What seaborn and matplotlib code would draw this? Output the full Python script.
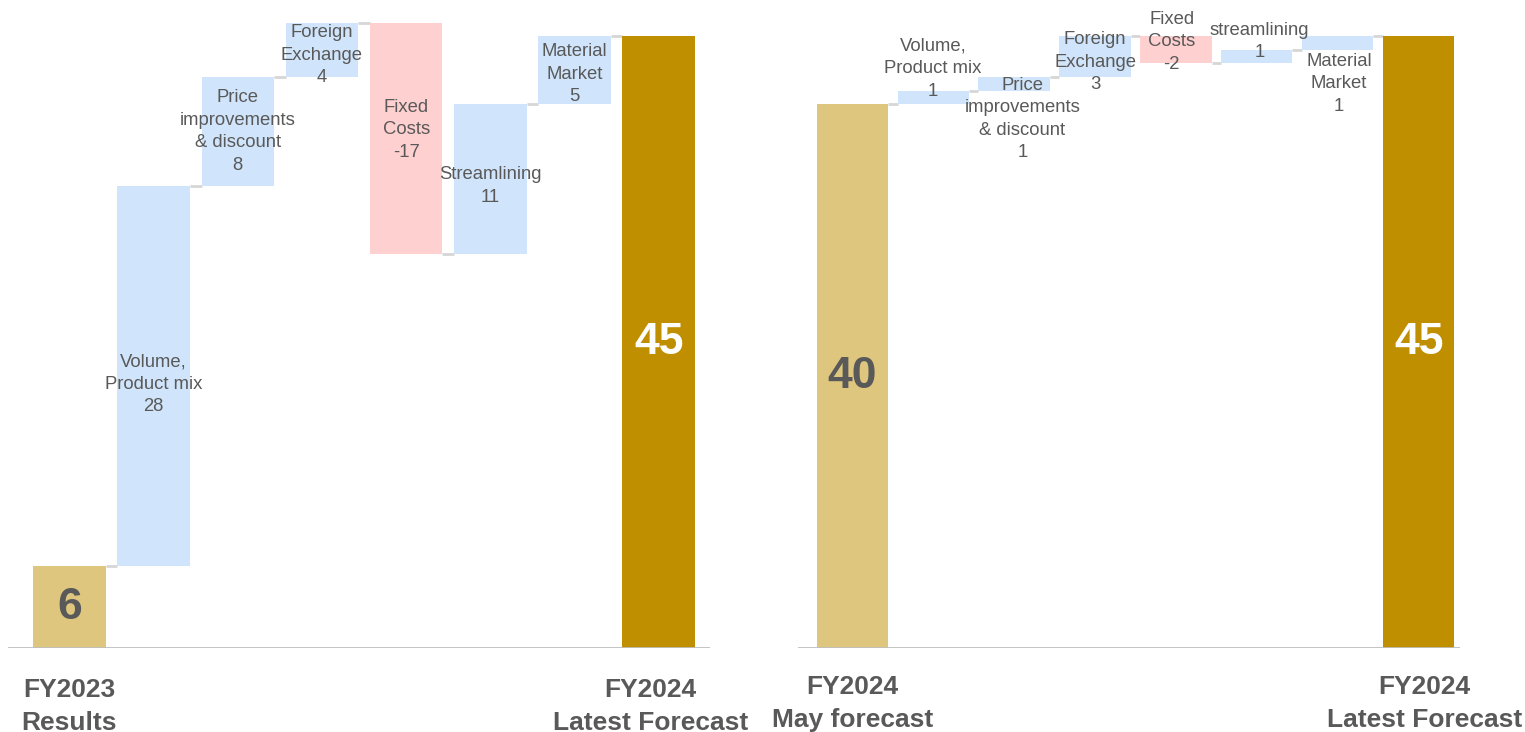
import matplotlib
matplotlib.use("Agg")
import matplotlib.pyplot as plt
import numpy as np
import pandas as pd
import seaborn as sns

# ---- data -------------------------------------------------------------
# Bridge 1: FY2023 results -> FY2024 latest forecast
left_start = 6
left_steps = [28, 8, 4, -17, 11, 5]
left_end = 45
left_step_names = ["Volume,\nProduct mix", "Price\nimprovements\n& discount",
                   "Foreign\nExchange", "Fixed\nCosts", "Streamlining",
                   "Material\nMarket"]
left_start_name = "FY2023\nResults"
left_end_name = "FY2024\nLatest Forecast"

# Bridge 2: FY2024 May forecast -> FY2024 latest forecast
right_start = 40
right_steps = [1, 1, 3, -2, 1, 1]
right_end = 45
right_step_names = ["Volume,\nProduct mix", "Price\nimprovements\n& discount",
                    "Foreign\nExchange", "Fixed\nCosts", "streamlining",
                    "Material\nMarket"]
right_start_name = "FY2024\nMay forecast"
right_end_name = "FY2024\nLatest Forecast"

# ---- style ------------------------------------------------------------
sns.set_theme(style="white")
plt.rcParams["font.family"] = ["Liberation Sans", "DejaVu Sans"]

C_START = "#DFC67E"
C_END = "#BF8F00"
C_UP = "#D0E5FB"
C_DOWN = "#FFD0D0"
C_TEXT = "#595959"
C_LINE = "#BFBFBF"
C_CONN = "#D6D6D6"

fig = plt.figure(figsize=(15.25, 7.32), dpi=100)
ax_l = fig.add_axes([8 / 1525, 84 / 732, 702 / 1525, 639 / 732])
ax_r = fig.add_axes([798 / 1525, 84 / 732, 662 / 1525, 639 / 732])


def waterfall(ax, start, steps, end, step_names, start_name, end_name,
              width, xlim, start_txt_color, label_pos=None, label_dx=None,
              label_dy=None, end_label_dy=-40, start_label_dx=0,
              end_label_dx=0):
    heights = [start] + list(steps) + [end]
    levels = np.cumsum([start] + list(steps))          # running total after each bar
    bottoms = [0] + list(levels[:-1]) + [0]
    keys = [f"b{i}" for i in range(len(heights))]
    colors = [C_START] + [C_UP if s >= 0 else C_DOWN for s in steps] + [C_END]
    df = pd.DataFrame({"key": keys, "height": heights})

    sns.barplot(data=df, x="key", y="height", hue="key", order=keys,
                hue_order=keys, palette=colors, width=width, saturation=1,
                errorbar=None, legend=False, ax=ax, linewidth=0, zorder=2)

    # lift each step bar onto the running total
    bars = sorted(ax.patches, key=lambda p: p.get_x())
    for patch, b in zip(bars, bottoms):
        patch.set_y(b)

    # connectors between consecutive bars
    for i in range(len(heights) - 1):
        ax.plot([i + width / 2, i + 1 - width / 2], [levels[i], levels[i]],
                color=C_CONN, lw=2, zorder=1, solid_capstyle="butt")

    ax.axhline(0, color=C_LINE, lw=2, zorder=3)

    # totals inside the start / end bars
    ax.text(0, start / 2, f"{start}", ha="center", va="center",
            fontsize=32, fontweight="bold", color=start_txt_color, zorder=4)
    ax.text(len(heights) - 1, end / 2, f"{end}", ha="center", va="center",
            fontsize=32, fontweight="bold", color="white", zorder=4)

    # step labels
    for j, (name, s) in enumerate(zip(step_names, steps)):
        i = j + 1
        y = bottoms[i] + s / 2 if label_pos is None else label_pos[j]
        dx = 0 if label_dx is None else label_dx[j]
        dy = 0 if label_dy is None else label_dy[j]
        ax.annotate(f"{name}\n{s}", xy=(i, y), xytext=(dx, dy),
                    textcoords="offset points", ha="center", va="center",
                    fontsize=13.3, color=C_TEXT, linespacing=1.42, zorder=4)

    # category labels under the axis
    for i, name, dx in [(0, start_name, start_label_dx),
                        (len(heights) - 1, end_name, end_label_dx)]:
        ax.annotate(name, xy=(i, 0), xytext=(dx, end_label_dy),
                    textcoords="offset points", ha="center", va="center",
                    fontsize=19, fontweight="bold", color=C_TEXT,
                    linespacing=1.45, annotation_clip=False)

    ax.set_xlim(*xlim)
    ax.set_ylim(0, 47)
    ax.set_xticks([])
    ax.set_yticks([])
    ax.set_xlabel("")
    ax.set_ylabel("")
    sns.despine(ax=ax, left=True, bottom=True)


waterfall(ax_l, left_start, left_steps, left_end, left_step_names,
          left_start_name, left_end_name, width=0.86, xlim=(-0.73, 7.61),
          start_txt_color=C_TEXT, label_dy=[-6, 0, -4, 6, -5, -3],
          end_label_dy=-42, end_label_dx=-6)

waterfall(ax_r, right_start, right_steps, right_end, right_step_names,
          right_start_name, right_end_name, width=0.88, xlim=(-0.67, 7.51),
          start_txt_color=C_TEXT,
          label_pos=[42.6, 38.9, 43.1, 44.6, 44.6, 41.5],
          label_dx=[0, 6, 0, -3, 2, 1],
          end_label_dy=-40, end_label_dx=4)

fig.savefig("out.png", dpi=100, facecolor="white")
